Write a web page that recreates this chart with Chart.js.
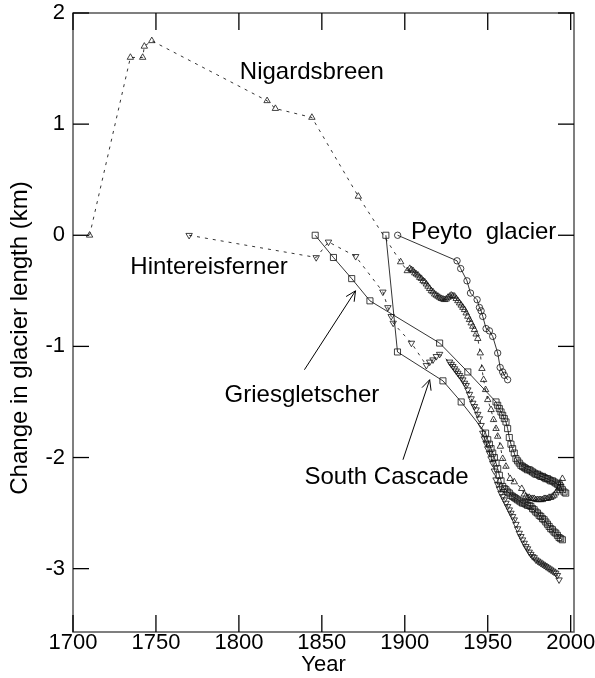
<!DOCTYPE html>
<html>
<head>
    <title>Glacier length records</title>
    <script src="https://cdn.jsdelivr.net/npm/chart.js"></script>
    <style>
        body { margin: 0; background: #fff; }
        #wrap { width: 595px; height: 678px; }
    </style>
</head>
<body>
    <div id="wrap"><canvas id="myChart"></canvas></div>

    <script>
        // Length change (km) relative to the first observation, per glacier
        const nigardsYears = [1710, 1734.6, 1742, 1743, 1747.5, 1817, 1822, 1844, 1872, 1897.5, 1901.5,
            1903, 1904, 1905, 1906, 1907, 1908, 1909, 1910, 1911, 1912, 1913, 1914, 1915, 1916, 1917, 1918,
            1919, 1920, 1921, 1922, 1923, 1924, 1925, 1926, 1927, 1928, 1929, 1930, 1931, 1932, 1933, 1934,
            1935, 1936, 1937, 1938, 1939, 1940, 1941, 1942, 1943, 1944,
            1945.5, 1946.5, 1947.5, 1948.7, 1950, 1952, 1953.5, 1955, 1956, 1957.6, 1959, 1961, 1963.5, 1966,
            1970.5, 1972, 1973, 1974, 1975, 1976, 1977, 1978, 1979, 1980, 1981, 1982, 1983, 1984, 1985, 1986,
            1987, 1988, 1989, 1990, 1991, 1992, 1993, 1994, 1995];
        const nigardsValues = [0, 1.60, 1.60, 1.70, 1.75, 1.21, 1.14, 1.06, 0.35, -0.24, -0.32,
            -0.30, -0.31, -0.32, -0.34, -0.35, -0.36, -0.38, -0.39, -0.41, -0.42, -0.44, -0.46, -0.48, -0.50, -0.51, -0.53,
            -0.54, -0.55, -0.56, -0.57, -0.575, -0.58, -0.575, -0.56, -0.55, -0.54, -0.545, -0.55, -0.57, -0.59, -0.61, -0.63,
            -0.65, -0.67, -0.70, -0.73, -0.76, -0.79, -0.82, -0.85, -0.89, -0.93,
            -1.06, -1.20, -1.30, -1.39, -1.48, -1.57, -1.66, -1.74, -1.81, -1.90, -2.01, -2.08, -2.19, -2.22,
            -2.28, -2.33, -2.35, -2.36, -2.36, -2.37, -2.37, -2.37, -2.38, -2.38, -2.38, -2.38, -2.38, -2.37, -2.37, -2.37,
            -2.36, -2.36, -2.35, -2.34, -2.32, -2.30, -2.27, -2.23, -2.19];

        const hintereisYears = [1770, 1846.6, 1854, 1870.4, 1886.8, 1889.8, 1891.8, 1893, 1904, 1913, 1915, 1917,
            1919, 1921, 1927, 1928, 1929, 1930, 1931, 1932, 1933, 1934, 1935, 1936, 1937, 1938, 1939, 1940,
            1941, 1942, 1943, 1944, 1945, 1946, 1947, 1948, 1949, 1950, 1951, 1952, 1953, 1954, 1955, 1956,
            1957, 1958, 1959, 1960, 1961, 1962, 1963, 1964, 1965, 1966, 1967, 1968, 1969, 1970, 1971, 1972,
            1973, 1974, 1975, 1976, 1977, 1978, 1979, 1980, 1981, 1982, 1983, 1984, 1985, 1986, 1987, 1988,
            1989, 1990, 1991, 1992, 1993];
        const hintereisValues = [0, -0.20, -0.06, -0.19, -0.51, -0.65, -0.73, -0.79, -0.97, -1.17, -1.14, -1.12,
            -1.09, -1.07, -1.14, -1.16, -1.18, -1.20, -1.22, -1.24, -1.26, -1.28, -1.30, -1.33, -1.35, -1.39, -1.43, -1.47,
            -1.51, -1.54, -1.57, -1.61, -1.65, -1.71, -1.78, -1.83, -1.87, -1.92, -1.96, -2.01, -2.05, -2.12, -2.20, -2.24,
            -2.28, -2.32, -2.35, -2.38, -2.41, -2.44, -2.47, -2.50, -2.53, -2.56, -2.60, -2.64, -2.68, -2.71, -2.74, -2.77,
            -2.80, -2.82, -2.85, -2.87, -2.89, -2.90, -2.92, -2.93, -2.94, -2.95, -2.96, -2.97, -2.98, -2.99, -3.00, -3.01,
            -3.02, -3.03, -3.04, -3.06, -3.10];

        const griesYears = [1846, 1857, 1868, 1879, 1921, 1938, 1955, 1956, 1957, 1958, 1959, 1960, 1961, 1962,
            1963, 1964, 1965, 1966, 1967, 1968, 1969, 1970, 1971, 1972, 1973, 1974, 1975, 1976, 1977, 1978,
            1979, 1980, 1981, 1982, 1983, 1984, 1985, 1986, 1987, 1988, 1989, 1990, 1991, 1992, 1993, 1994,
            1995, 1996, 1997];
        const griesValues = [0, -0.20, -0.39, -0.59, -0.97, -1.23, -1.50, -1.53, -1.56, -1.59, -1.62, -1.65, -1.68, -1.74,
            -1.82, -1.88, -1.92, -1.96, -2.01, -2.03, -2.05, -2.07, -2.08, -2.09, -2.10, -2.11, -2.11, -2.12, -2.13, -2.14,
            -2.15, -2.15, -2.16, -2.17, -2.17, -2.18, -2.19, -2.19, -2.20, -2.21, -2.21, -2.22, -2.23, -2.24, -2.25, -2.27,
            -2.29, -2.31, -2.32];

        const cascadeYears = [1888.6, 1895.6, 1923, 1934, 1948.7, 1950, 1951, 1952, 1953, 1954, 1955, 1956, 1957,
            1958, 1959, 1960, 1961, 1962, 1963, 1964, 1965, 1966, 1967, 1968, 1969, 1970, 1971, 1972, 1973,
            1974, 1975, 1976, 1977, 1978, 1979, 1980, 1981, 1982, 1983, 1984, 1985, 1986, 1987, 1988, 1989,
            1990, 1991, 1992, 1993, 1994, 1995];
        const cascadeValues = [0, -1.05, -1.31, -1.50, -1.78, -1.84, -1.88, -1.92, -1.96, -2.00, -2.05, -2.10, -2.16,
            -2.21, -2.26, -2.28, -2.29, -2.31, -2.32, -2.34, -2.35, -2.36, -2.37, -2.38, -2.39, -2.40, -2.41, -2.41, -2.42,
            -2.43, -2.43, -2.44, -2.46, -2.47, -2.49, -2.50, -2.52, -2.53, -2.55, -2.56, -2.58, -2.60, -2.62, -2.64, -2.65,
            -2.67, -2.68, -2.70, -2.72, -2.73, -2.74];

        const peytoYears = [1895.7, 1931.5, 1933.7, 1937.5, 1939.6, 1943.6, 1945, 1946, 1947, 1949, 1951, 1953, 1956,
            1957.5, 1959, 1960, 1962];
        const peytoValues = [0, -0.23, -0.30, -0.41, -0.52, -0.58, -0.65, -0.68, -0.73, -0.84, -0.86, -0.91, -1.06,
            -1.19, -1.23, -1.26, -1.30];

        const xTicks = [1700, 1750, 1800, 1850, 1900, 1950, 2000];
        const yTicks = [-3, -2, -1, 0, 1, 2];

        const pts = (xs, ys) => xs.map((x, i) => ({x: x, y: ys[i]}));
        const font = 'Liberation Sans, Arial, sans-serif';

        function series(label, xs, ys, style, rotation, dashed) {
            return {
                label: label,
                data: pts(xs, ys),
                showLine: true,
                borderColor: '#000',
                borderWidth: 0.8,
                borderDash: dashed ? [3, 5] : [],
                pointStyle: style,
                rotation: rotation,
                pointRadius: style === 'rect' ? 4.3 : (style === 'circle' ? 3.2 : 3.7),
                pointBorderWidth: 0.8,
                pointBorderColor: '#111',
                pointBackgroundColor: 'transparent'
            };
        }

        // frame, inward ticks on all four sides, labels and arrows
        const decorations = {
            id: 'decorations',
            afterDatasetsDraw(chart) {
                const {ctx, chartArea: a, scales: {x, y}} = chart;
                const line = (x1, y1, x2, y2) => { ctx.beginPath(); ctx.moveTo(x1, y1); ctx.lineTo(x2, y2); ctx.stroke(); };
                ctx.save();
                ctx.strokeStyle = '#555';
                ctx.lineWidth = 1.5;
                ctx.strokeRect(a.left, a.top, a.right - a.left, a.bottom - a.top);
                ctx.strokeStyle = '#000';
                ctx.lineWidth = 1.3;
                xTicks.forEach(t => {
                    const px = x.getPixelForValue(t);
                    line(px, a.bottom, px, a.bottom - 17);
                    line(px, a.top, px, a.top + 17);
                });
                yTicks.forEach(t => {
                    const py = y.getPixelForValue(t);
                    line(a.left, py, a.left + 16, py);
                    line(a.right, py, a.right - 16, py);
                });

                ctx.fillStyle = '#000';
                ctx.font = '24px ' + font;
                ctx.textBaseline = 'middle';
                const text = (s, xv, yv, align) => {
                    ctx.textAlign = align || 'center';
                    ctx.fillText(s, x.getPixelForValue(xv), y.getPixelForValue(yv));
                };
                text('Nigardsbreen', 1844, 1.47);
                text('Hintereisferner', 1782, -0.29);
                text('Peyto  glacier', 1903.7, 0.03, 'left');
                text('Griesgletscher', 1838, -1.44);
                text('South Cascade', 1889, -2.18);

                // y axis title
                ctx.save();
                ctx.translate(20, 338);
                ctx.rotate(-Math.PI / 2);
                ctx.textAlign = 'center';
                ctx.fillText('Change in glacier length (km)', 0, 0);
                ctx.restore();

                // arrows from labels to their records
                ctx.lineWidth = 1;
                const arrow = (x0, y0, x1, y1) => {
                    const ax = x.getPixelForValue(x0), ay = y.getPixelForValue(y0);
                    const bx = x.getPixelForValue(x1), by = y.getPixelForValue(y1);
                    const ang = Math.atan2(by - ay, bx - ax);
                    line(ax, ay, bx, by);
                    [0.45, -0.45].forEach(d => {
                        line(bx, by, bx - 11 * Math.cos(ang + d), by - 11 * Math.sin(ang + d));
                    });
                };
                arrow(1839.5, -1.21, 1870.3, -0.50);
                arrow(1898.9, -2.02, 1915, -1.30);
                ctx.restore();
            }
        };

        let ctx = document.getElementById('myChart').getContext('2d');
        window.myChart = new Chart(ctx, {
            type: 'scatter',
            data: {
                datasets: [
                    series('Nigardsbreen', nigardsYears, nigardsValues, 'triangle', 0, true),
                    series('Hintereisferner', hintereisYears, hintereisValues, 'triangle', 180, true),
                    series('Griesgletscher', griesYears, griesValues, 'rect', 0, false),
                    series('South Cascade', cascadeYears, cascadeValues, 'rect', 0, false),
                    series('Peyto glacier', peytoYears, peytoValues, 'circle', 0, false)
                ]
            },
            options: {
                responsive: true,
                maintainAspectRatio: false,
                animation: false,
                layout: { padding: { top: 13, right: 21, left: 0, bottom: 0 } },
                plugins: { legend: { display: false }, tooltip: { enabled: false } },
                scales: {
                    x: {
                        type: 'linear',
                        min: 1700,
                        max: 2002,
                        afterBuildTicks: s => { s.ticks = xTicks.map(v => ({value: v})); },
                        afterFit: s => { s.height = 46; s.paddingLeft = 0; s.paddingRight = 0; },
                        grid: { display: false, drawTicks: false },
                        border: { display: false },
                        ticks: { padding: -2, color: '#000', maxRotation: 0, font: { size: 22, family: font },
                                 callback: v => String(v) },
                        title: { display: true, text: 'Year', color: '#000', padding: 0, font: { size: 22, family: font } }
                    },
                    y: {
                        min: -3.57,
                        max: 2,
                        afterBuildTicks: s => { s.ticks = yTicks.map(v => ({value: v})); },
                        afterFit: s => { s.width = 73; s.paddingTop = 0; s.paddingBottom = 0; },
                        grid: { display: false, drawTicks: false },
                        border: { display: false },
                        ticks: { padding: 8, color: '#000', font: { size: 22, family: font },
                                 callback: v => String(v) }
                    }
                }
            },
            plugins: [decorations]
        });
    </script>
</body>
</html>
